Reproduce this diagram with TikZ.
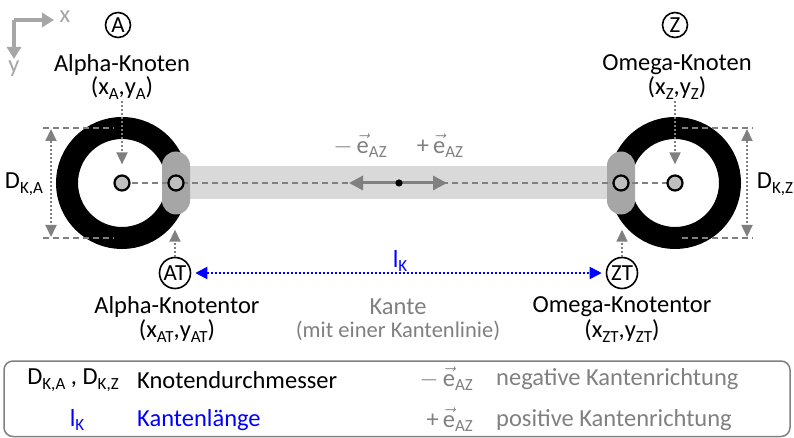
\documentclass[tikz,border=0pt]{standalone}
\usepackage{fontspec}
\usepackage{amsmath}
\setmainfont{Carlito}
\usetikzlibrary{arrows.meta}
\definecolor{dgray}{HTML}{808080}
\definecolor{mgray}{HTML}{A6A6A6}
\definecolor{lgray}{HTML}{D9D9D9}
\definecolor{pingray}{HTML}{BFBFBF}
\definecolor{kblue}{HTML}{0000FF}
% vector symbol and lowered index
\newcommand\ve{\ensuremath{\vec{\text{e}}}}
\newcommand\lo[1]{\raisebox{-0.4ex}{\fontsize{17}{17}\selectfont #1}}
\tikzset{
  gtip/.tip={Triangle[length=12pt,width=11pt]},
  btip/.tip={Triangle[length=12pt,width=12pt]}
}
\begin{document}
\begin{tikzpicture}[x=1pt,y=-1pt,
  txt/.style={font=\fontsize{24.5}{28}\selectfont, inner sep=0pt, align=center},
  smalltxt/.style={font=\fontsize{22.5}{26}\selectfont, inner sep=0pt, align=center},
  tag/.style={circle, draw=black, line width=1.6pt, inner sep=0pt, font=\fontsize{23}{23}\selectfont},
  ring/.style={draw=black, line width=22pt},
  pin/.style={circle, draw=black, line width=2.2pt, fill=pingray, minimum size=15pt, inner sep=0pt},
  gate/.style={draw=none, fill=mgray, rounded corners=14pt, minimum width=28pt, minimum height=63pt, inner sep=0pt},
  dimline/.style={draw=dgray, line width=1.6pt, dash pattern=on 6pt off 4pt},
  dotarrow/.style={draw=dgray, line width=1.8pt, dash pattern=on 2pt off 2pt, -{gtip}},
  dimarrow/.style={draw=dgray, line width=1.8pt, dash pattern=on 2pt off 2pt, {gtip}-{gtip}},
  axisarrow/.style={draw=mgray, line width=3.2pt, -{Triangle[length=12pt,width=14pt]}},
  dirarrow/.style={draw=dgray, line width=3pt, -{Triangle[length=14pt,width=14pt]}},
  lenarrow/.style={draw=kblue, line width=1.8pt, dash pattern=on 2pt off 2pt, {btip}-{btip}}
]
\useasboundingbox (0,0) rectangle (794,438);

% coordinate axes
\coordinate (O) at (14,20);
\coordinate (ax) at (54,20);
\coordinate (ay) at (14,59);
\draw[axisarrow] (O) -- (ax);
\draw[axisarrow] (O) -- (ay);
\node[txt, text=mgray] (xl) at (65,17) {x};
\node[txt, text=mgray] (yl) at (14,69) {y};

% node centres and gates
\coordinate (CA) at (122,183);
\coordinate (CZ) at (675,183);
\coordinate (GA) at (176,183);
\coordinate (GZ) at (621,183);

% edge band
\fill[lgray] (176,166.5) rectangle (621,199.5);

% node rings
\draw[ring] (CA) circle (55pt);
\draw[ring] (CZ) circle (55pt);

% gates
\node[gate] (gateA) at (GA) {};
\node[gate] (gateZ) at (GZ) {};

% edge line
\draw[dimline] (CA) -- (CZ);

% direction arrows
\coordinate (M) at (399,183);
\coordinate (Mneg) at (349,183);
\coordinate (Mpos) at (447,183);
\draw[dirarrow] (M) -- (Mneg);
\draw[dirarrow] (M) -- (Mpos);
\fill[black] (M) circle (3.6pt);
\node[txt, text=dgray] (eneg) at (360,146) {$-$\,\ve\lo{AZ}};
\node[txt, text=dgray] (epos) at (440,146) {+\,\ve\lo{AZ}};

% pins
\node[pin] (pA) at (CA) {};
\node[pin] (pZ) at (CZ) {};
\node[pin] (pAT) at (GA) {};
\node[pin] (pZT) at (GZ) {};

% diameter dimensions
\coordinate (dAt1) at (43,128);
\coordinate (dAt2) at (114,128);
\coordinate (dAb1) at (43,238);
\coordinate (dAb2) at (114,238);
\draw[dimline] (dAt1) -- (dAt2);
\draw[dimline] (dAb1) -- (dAb2);
\coordinate (vAt) at (51,129);
\coordinate (vAb) at (51,237);
\draw[dimarrow] (vAt) -- (vAb);
\node[txt] (DA) at (24,184) {D\lo{K,A}};

\coordinate (dZt1) at (682,128);
\coordinate (dZt2) at (753,128);
\coordinate (dZb1) at (682,238);
\coordinate (dZb2) at (753,238);
\draw[dimline] (dZt1) -- (dZt2);
\draw[dimline] (dZb1) -- (dZb2);
\coordinate (vZt) at (747,129);
\coordinate (vZb) at (747,237);
\draw[dimarrow] (vZt) -- (vZb);
\node[txt] (DZ) at (775,184) {D\lo{K,Z}};

% node labels
\node[tag, minimum size=25pt] (tA) at (118,25) {A};
\node[tag, minimum size=25pt] (tZ) at (675,25) {Z};
\node[txt] (nA) at (122,65) {Alpha-Knoten};
\node[txt] (cA) at (122,88) {(x\lo{A},y\lo{A})};
\node[txt] (nZ) at (677,65) {Omega-Knoten};
\node[txt] (cZ) at (677,88) {(x\lo{Z},y\lo{Z})};
\coordinate (aA) at (122,101);
\coordinate (aZ) at (675,101);
\draw[dotarrow] (aA) -- ([yshift=10pt]pA.north);
\draw[dotarrow] (aZ) -- ([yshift=10pt]pZ.north);

% gate labels
\node[tag, minimum size=31pt] (tAT) at (175,273) {AT};
\node[tag, minimum size=31pt] (tZT) at (622,273) {ZT};
\draw[dotarrow] (tAT.north) -- ++(0,-27);
\draw[dotarrow] (tZT.north) -- ++(0,-27);
\node[txt] (nAT) at (177,307) {Alpha-Knotentor};
\node[txt] (cAT) at (177,331) {(x\lo{AT},y\lo{AT})};
\node[txt] (nZT) at (622,307) {Omega-Knotentor};
\node[txt] (cZT) at (622,331) {(x\lo{ZT},y\lo{ZT})};

% edge length
\draw[lenarrow] ([xshift=4pt]tAT.east) -- ([xshift=-4pt]tZT.west);
\node[txt, text=kblue] (lK) at (400,261) {l\lo{K}};

% edge caption
\node[txt, text=dgray] (kante) at (398,307) {Kante};
\node[smalltxt, text=dgray] (kante2) at (398,331) {(mit einer Kantenlinie)};

% legend
\draw[draw=dgray, line width=1.5pt, rounded corners=9pt] (4,361) rectangle (790,436.5);
\node[txt] (lg1a) at (73,380) {D\lo{K,A} , D\lo{K,Z}};
\node[txt, anchor=west] (lg1b) at (137,380) {Knotendurchmesser};
\node[txt, text=kblue] (lg2a) at (77,420) {l\lo{K}};
\node[txt, text=kblue, anchor=west] (lg2b) at (137,420) {Kantenlänge};
\node[txt, text=dgray, anchor=east] (lg3a) at (473,379) {$-$\,\ve\lo{AZ}};
\node[txt, text=dgray, anchor=west] (lg3b) at (496,379) {negative Kantenrichtung};
\node[txt, text=dgray, anchor=east] (lg4a) at (473,420) {+\,\ve\lo{AZ}};
\node[txt, text=dgray, anchor=west] (lg4b) at (496,420) {positive Kantenrichtung};
\end{tikzpicture}
\end{document}
